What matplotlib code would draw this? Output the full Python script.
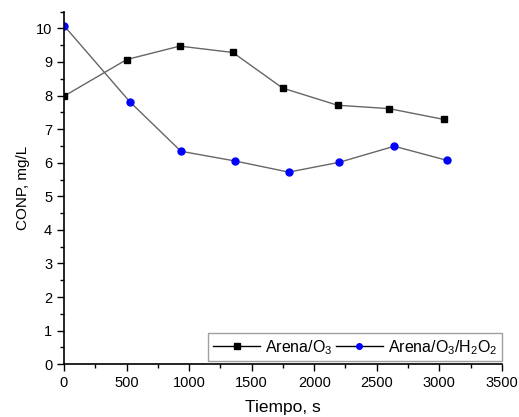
import matplotlib
matplotlib.use("Agg")
import matplotlib.pyplot as plt
from matplotlib.ticker import MultipleLocator

plt.rcParams['font.family'] = ['Liberation Sans', 'DejaVu Sans']
plt.rcParams['mathtext.fontset'] = 'custom'
plt.rcParams['mathtext.rm'] = 'Liberation Sans'

t_o3 = [0, 501, 925, 1350, 1748, 2187, 2597, 3034]
c_o3 = [7.98, 9.07, 9.47, 9.28, 8.22, 7.71, 7.61, 7.29]
t_h2o2 = [0, 527, 935, 1369, 1796, 2198, 2640, 3061]
c_h2o2 = [10.08, 7.81, 6.34, 6.05, 5.72, 6.01, 6.49, 6.07]

fig = plt.figure(figsize=(5.19, 4.17), dpi=100)
ax = fig.add_axes([0.1233, 0.1264, 0.8437, 0.846])

ax.plot(t_o3, c_o3, color='#666666', lw=1.0, marker='s', ms=4.6,
        mfc='black', mec='black', label=r'Arena/O$_3$')
ax.plot(t_h2o2, c_h2o2, color='#666666', lw=1.0, marker='o', ms=5.0,
        mfc='blue', mec='blue', label=r'Arena/O$_3$/H$_2$O$_2$')

ax.set_xlim(0, 3500)
ax.set_ylim(0, 10.5)
ax.xaxis.set_major_locator(MultipleLocator(500))
ax.xaxis.set_minor_locator(MultipleLocator(250))
ax.yaxis.set_major_locator(MultipleLocator(1))
ax.yaxis.set_minor_locator(MultipleLocator(0.5))
ax.tick_params(which='major', direction='out', length=5, width=1, labelsize=10.5)
ax.tick_params(which='minor', direction='out', length=3, width=1)
for s in ['top', 'right']:
    ax.spines[s].set_visible(False)
for s in ['left', 'bottom']:
    ax.spines[s].set_linewidth(1.2)

ax.set_xlabel('Tiempo, s', fontsize=12.5, labelpad=7)
ax.set_ylabel('CONP, mg/L', fontsize=11)

leg = ax.legend(loc='lower right', bbox_to_anchor=(1.0, 0.008), ncol=2,
                fontsize=11.5, frameon=True, fancybox=False,
                edgecolor='#888888', handlelength=2.95, markerscale=0.8,
                borderaxespad=0.0, columnspacing=0.2, handletextpad=0.3,
                borderpad=0.3)
leg.get_frame().set_linewidth(1.0)
for line in leg.get_lines():
    line.set_color('black')

fig.savefig('out.png', dpi=100)
